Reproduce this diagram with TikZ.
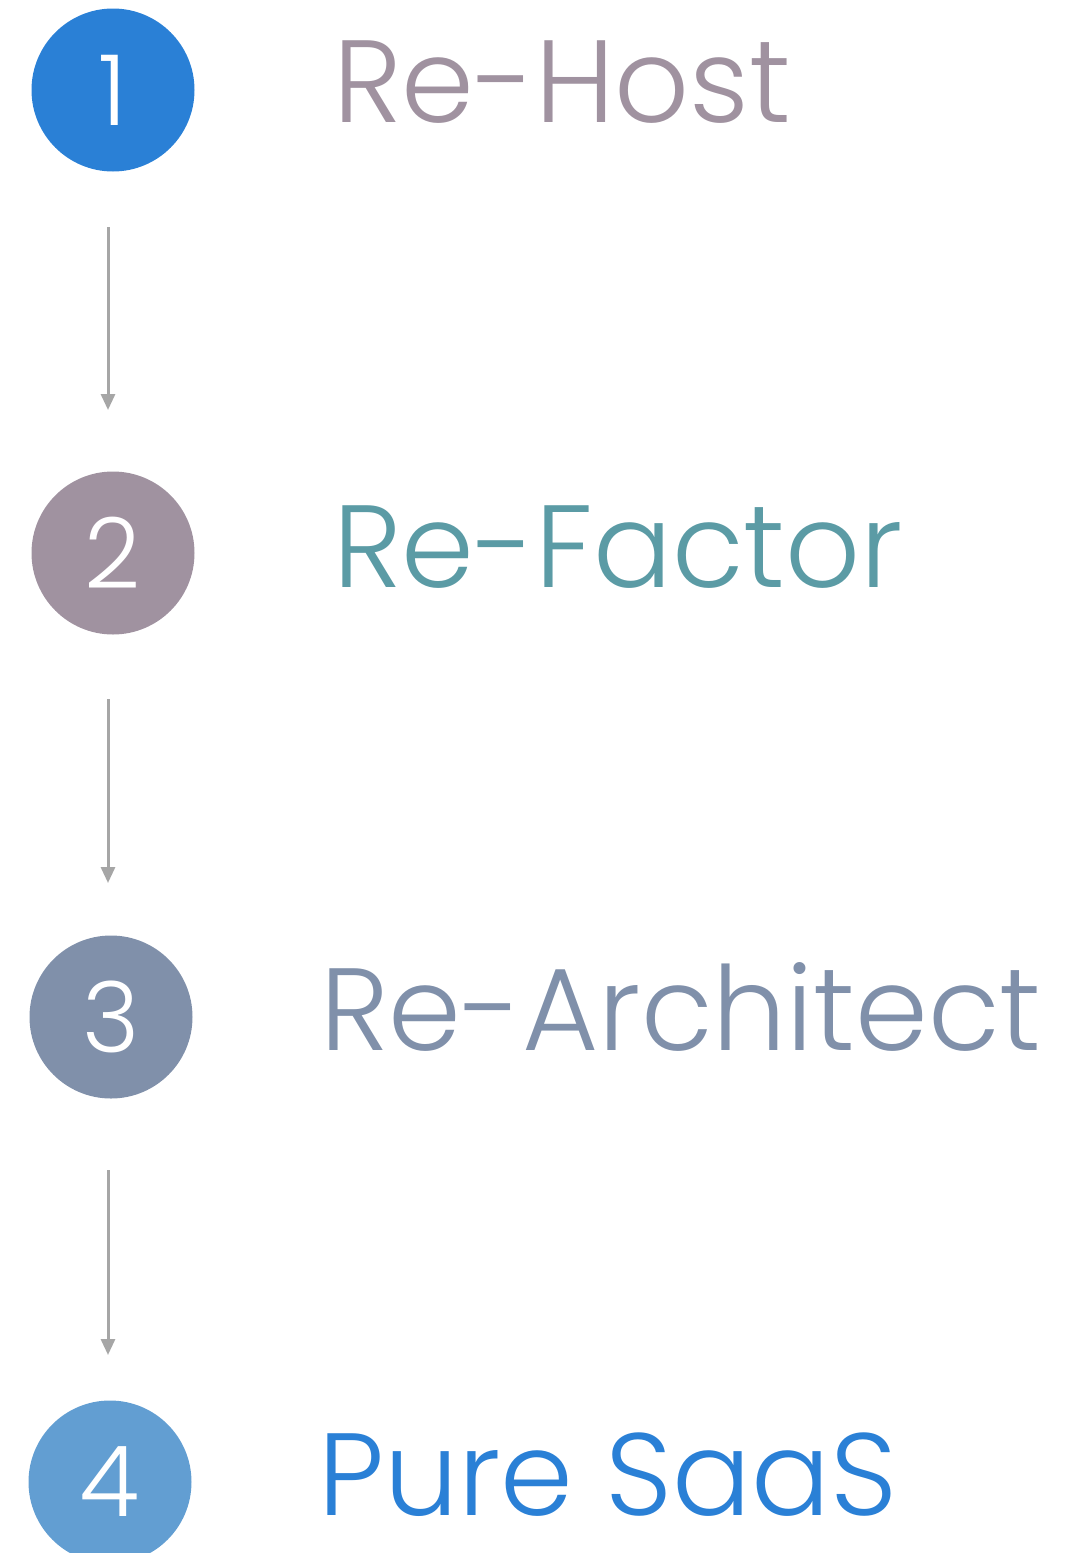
\documentclass[tikz,border=0pt]{standalone}
\usepackage{fontspec}
\setmainfont{Poppins}[UprightFont=* Light]
\usetikzlibrary{arrows.meta}
\definecolor{cone}{HTML}{2A80D6}
\definecolor{ctwo}{HTML}{A092A0}
\definecolor{cthree}{HTML}{8090AA}
\definecolor{cfour}{HTML}{629ED2}
\definecolor{tteal}{HTML}{5B9BA5}
\definecolor{arrgray}{HTML}{A6A6A6}
\tikzset{
  numcirc/.style={circle, minimum size=163pt, inner sep=0pt, text=white, font=\fontsize{98}{98}\selectfont},
  label/.style={anchor=base west, inner sep=0pt, font=\fontsize{117}{117}\selectfont},
  flow/.style={draw=arrgray, line width=3pt, -{Triangle[length=16pt,width=14pt]}}
}
\begin{document}
\begin{tikzpicture}[x=1pt,y=-1pt]
\useasboundingbox (0,0) rectangle (1070,1553);
\begin{scope}
\clip (0,0) rectangle (1070,1553);
\node[numcirc, fill=cone] (c1) at (113,90) {1};
\node[numcirc, fill=ctwo] (c2) at (113,553) {2};
\node[numcirc, fill=cthree] (c3) at (111,1017) {3};
\node[numcirc, fill=cfour] (c4) at (110,1482) {4};
\end{scope}
\node[label, text=ctwo] (t1) at (333,122) {Re-Host};
\node[label, text=tteal] (t2) at (333,587) {Re-Factor};
\node[label, text=cthree] (t3) at (320,1050) {Re-Architect};
\node[label, text=cone] (t4) at (318,1515) {Pure SaaS};
\coordinate (a1s) at (108,227); \coordinate (a1e) at (108,410);
\coordinate (a2s) at (108,699); \coordinate (a2e) at (108,883);
\coordinate (a3s) at (108,1170); \coordinate (a3e) at (108,1355);
\draw[flow] (a1s) -- (a1e);
\draw[flow] (a2s) -- (a2e);
\draw[flow] (a3s) -- (a3e);
\end{tikzpicture}
\end{document}
